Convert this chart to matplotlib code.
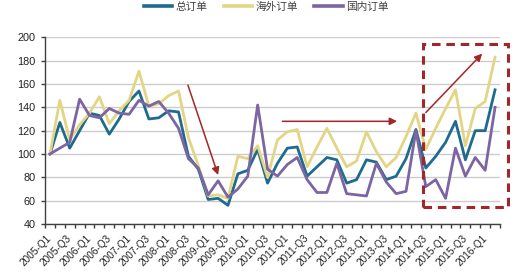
import matplotlib
matplotlib.use('Agg')
import matplotlib.pyplot as plt
from matplotlib.patches import Rectangle

plt.rcParams['font.family'] = ['Liberation Sans', 'Noto Sans CJK SC', 'DejaVu Sans']

categories = [
    "2005-Q1", "2005-Q2", "2005-Q3", "2005-Q4",
    "2006-Q1", "2006-Q2", "2006-Q3", "2006-Q4",
    "2007-Q1", "2007-Q2", "2007-Q3", "2007-Q4",
    "2008-Q1", "2008-Q2", "2008-Q3", "2008-Q4",
    "2009-Q1", "2009-Q2", "2009-Q3", "2009-Q4",
    "2010-Q1", "2010-Q2", "2010-Q3", "2010-Q4",
    "2011-Q1", "2011-Q2", "2011-Q3", "2011-Q4",
    "2012-Q1", "2012-Q2", "2012-Q3", "2012-Q4",
    "2013-Q1", "2013-Q2", "2013-Q3", "2013-Q4",
    "2014-Q1", "2014-Q2", "2014-Q3", "2014-Q4",
    "2015-Q1", "2015-Q2", "2015-Q3", "2015-Q4",
    "2016-Q1", "2016-Q2",
]

total = [100, 127, 105, 120, 135, 133, 117, 130, 145, 154,
         130, 131, 137, 136, 98, 87, 61, 62, 56, 83,
         86, 104, 75, 92, 105, 106, 81, 89, 97, 95,
         75, 78, 95, 93, 78, 81, 96, 121, 88, 98,
         110, 128, 95, 120, 120, 155]
overseas = [100, 146, 112, 125, 135, 149, 126, 137, 146, 171,
            141, 143, 150, 154, 114, 90, 64, 65, 62, 98,
            96, 107, 80, 112, 119, 121, 89, 106, 122, 105,
            89, 94, 119, 102, 89, 97, 115, 135, 104, 122,
            139, 155, 107, 139, 145, 183]
domestic = [100, 105, 110, 147, 133, 131, 139, 135, 134, 146,
            141, 145, 135, 122, 96, 88, 65, 77, 63, 70,
            81, 142, 87, 81, 91, 97, 78, 67, 67, 92,
            66, 65, 64, 92, 76, 66, 68, 120, 72, 78,
            62, 105, 81, 97, 86, 140]

series_names = ["总订单", "海外订单", "国内订单"]
y_ticks = [40, 60, 80, 100, 120, 140, 160, 180, 200]

C_TOTAL = "#1f6a8f"
C_OVER = "#e4d585"
C_DOM = "#7b65a3"
RED = "#a3262a"
AX_C = "#404040"

fig = plt.figure(figsize=(5.22, 2.73), dpi=100)
ax = fig.add_axes([45 / 522, 1 - 224 / 273, 455 / 522, (224 - 37.3) / 273])

x = list(range(len(categories)))
ax.plot(x, total, color=C_TOTAL, lw=2.0, label=series_names[0], zorder=3)
ax.plot(x, overseas, color=C_OVER, lw=2.0, label=series_names[1], zorder=4)
ax.plot(x, domestic, color=C_DOM, lw=2.0, label=series_names[2], zorder=5)

ax.set_xlim(-0.5, len(categories) - 0.5)
ax.set_ylim(40, 200)
ax.set_yticks(y_ticks)
ax.yaxis.grid(True, color="#cccccc", lw=1.0)
ax.set_axisbelow(True)

major = x[::2]
ax.set_xticks(major)
ax.set_xticklabels([categories[i] for i in major], rotation=45, ha='right',
                   va='center', rotation_mode='anchor', fontsize=7.2, color="#222222")
ax.tick_params(axis='x', which='major', length=0, pad=9)
ax.set_xticks([i - 0.5 for i in range(len(categories) + 1)], minor=True)
ax.tick_params(axis='x', which='minor', length=3, width=1, direction='out', color=AX_C)
ax.tick_params(axis='y', length=3, width=1, direction='out', color=AX_C,
               labelsize=7.8, pad=4, labelcolor="#222222")

for s in ['top', 'right']:
    ax.spines[s].set_visible(False)
for s in ['left', 'bottom']:
    ax.spines[s].set_color(AX_C)
    ax.spines[s].set_linewidth(1.0)

arrow_kw = dict(arrowstyle='-|>', color=RED, lw=1.1, mutation_scale=11,
                shrinkA=0, shrinkB=0)
ax.annotate('', xy=(17.0, 82), xytext=(13.95, 159), arrowprops=arrow_kw,
            annotation_clip=False, zorder=6)
ax.annotate('', xy=(35.1, 128), xytext=(23.5, 128), arrowprops=arrow_kw,
            annotation_clip=False, zorder=6)
ax.annotate('', xy=(43.7, 186), xytext=(38.0, 135.5), arrowprops=arrow_kw,
            annotation_clip=False, zorder=6)

box = Rectangle((37.7, 54.5), 46.3 - 37.7, 194.3 - 54.5, fill=False,
                edgecolor=RED, lw=2.2, ls=(0, (2.8, 1.9)), clip_on=False, zorder=6)
ax.add_patch(box)

leg = fig.legend(loc='center', bbox_to_anchor=(0.51, 0.974), ncol=3, frameon=False,
                 fontsize=7.7, handlelength=2.7, handletextpad=0.3,
                 columnspacing=1.5, borderpad=0, borderaxespad=0)
for t in leg.get_texts():
    t.set_color("#404040")
for h in leg.get_lines():
    h.set_linewidth(2.6)

fig.savefig("out.png", dpi=100)
